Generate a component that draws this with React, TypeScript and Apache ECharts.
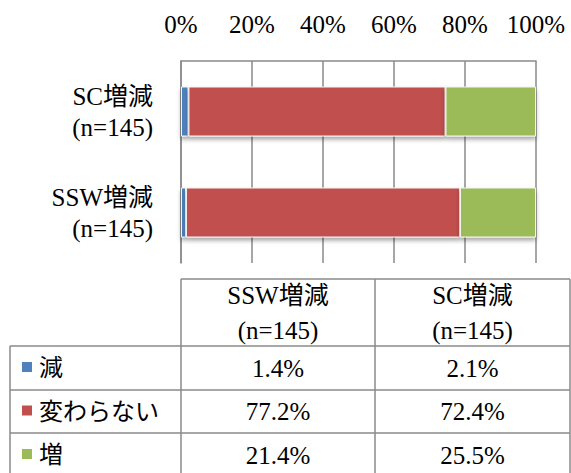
import React, { useEffect, useRef } from "react";
import * as echarts from "echarts";

const categories = ["SSW増減\n(n=145)", "SC増減\n(n=145)"];
const seriesNames = ["減", "変わらない", "増"];
const decrease = [1.4, 2.1];
const unchanged = [77.2, 72.4];
const increase = [21.4, 25.5];
const seriesValues = [decrease, unchanged, increase];
const colors = ["#4F81BD", "#C0504D", "#9BBB59"];

const FONT = "'Liberation Serif', 'Noto Sans CJK JP', serif";
const LINE = "#8a8a8a";

export default function App() {
  const ref = useRef<HTMLDivElement>(null);
  useEffect(() => {
    if (!ref.current) return;
    const chart = echarts.init(ref.current, null, { renderer: "svg" });

    const tTop = 279;
    const headBottom = 346;
    const rowBottoms = [390, 433, 490];
    const colX = [10, 181, 375, 570];
    const graphics: any[] = [];
    const ln = (x1: number, y1: number, x2: number, y2: number) =>
      graphics.push({
        type: "line",
        shape: { x1, y1, x2, y2 },
        style: { stroke: LINE, lineWidth: 1.5 },
        silent: true,
      });
    ln(colX[1], tTop, colX[3], tTop);
    ln(colX[0], headBottom, colX[3], headBottom);
    rowBottoms.forEach((y) => ln(colX[0], y, colX[3], y));
    ln(colX[0], headBottom, colX[0], 480);
    ln(colX[1], tTop, colX[1], 480);
    ln(colX[2], tTop, colX[2], 480);
    ln(colX[3], tTop, colX[3], 480);

    categories.forEach((c, i) => {
      graphics.push({
        type: "text",
        style: {
          text: c,
          x: (colX[i + 1] + colX[i + 2]) / 2,
          y: (tTop + headBottom) / 2,
          textAlign: "center",
          textVerticalAlign: "middle",
          fontFamily: FONT,
          fontSize: 25,
          lineHeight: 35,
          fill: "#000",
        },
      });
    });
    const rowTops = [headBottom, ...rowBottoms];
    seriesNames.forEach((name, r) => {
      const cy = r < 2 ? (rowTops[r] + rowTops[r + 1]) / 2 : 455;
      graphics.push({
        type: "rect",
        shape: { x: 22, y: cy - 6, width: 10, height: 10 },
        style: { fill: colors[r] },
      });
      graphics.push({
        type: "text",
        style: {
          text: name,
          x: 39,
          y: cy,
          textAlign: "left",
          textVerticalAlign: "middle",
          fontFamily: FONT,
          fontSize: 24,
          fill: "#000",
        },
      });
      seriesValues[r].forEach((v, i) => {
        graphics.push({
          type: "text",
          style: {
            text: v.toFixed(1) + "%",
            x: (colX[i + 1] + colX[i + 2]) / 2,
            y: cy,
            textAlign: "center",
            textVerticalAlign: "middle",
            fontFamily: FONT,
            fontSize: 25,
            fill: "#000",
          },
        });
      });
    });

    chart.setOption({
      animation: false,
      grid: { left: 181, right: 35, top: 61, bottom: 210, containLabel: false },
      xAxis: {
        type: "value",
        position: "top",
        min: 0,
        max: 100,
        interval: 20,
        axisLine: { show: true, lineStyle: { color: LINE, width: 1.5 } },
        axisTick: { show: false },
        axisLabel: {
          formatter: "{value}%",
          fontFamily: FONT,
          fontSize: 25,
          color: "#000",
          margin: 24,
        },
        splitLine: { show: true, lineStyle: { color: LINE, width: 1.5 } },
      },
      yAxis: {
        type: "category",
        data: categories,
        axisLine: { show: true, lineStyle: { color: LINE, width: 1.5 } },
        axisTick: { show: false },
        axisLabel: {
          fontFamily: FONT,
          fontSize: 25,
          lineHeight: 31,
          color: "#000",
          margin: 28,
          align: "right",
        },
      },
      series: seriesNames.map((name, i) => ({
        name,
        type: "bar",
        stack: "total",
        barWidth: 50,
        data: seriesValues[i],
        itemStyle: {
          color: colors[i],
          borderColor: "#f4f4f4",
          borderWidth: 1,
          shadowBlur: 4,
          shadowColor: "rgba(0,0,0,0.35)",
          shadowOffsetY: 3,
        },
      })),
      graphic: graphics,
    });
    return () => chart.dispose();
  }, []);
  return (
    <div
      ref={ref}
      style={{ position: "absolute", left: 0, top: 0, width: 571, height: 473, background: "#fff" }}
    />
  );
}
